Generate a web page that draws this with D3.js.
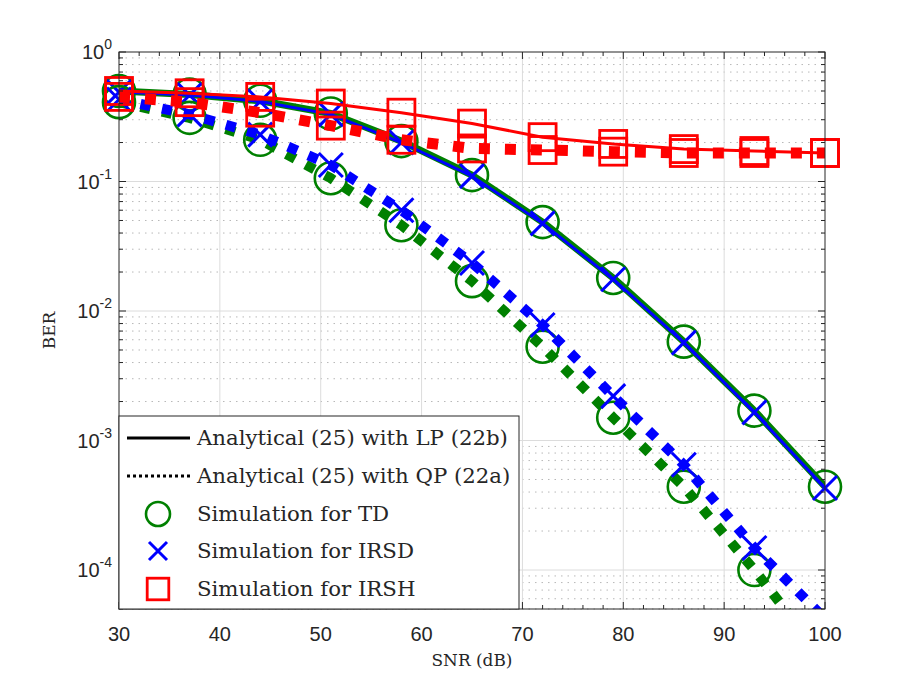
<!DOCTYPE html>
<html>
<head>
<meta charset="utf-8">
<script src="https://cdn.jsdelivr.net/npm/d3@7"></script>
<style>
  body { margin: 0; background: #fff; }
  svg { display: block; }
  .tick-label { font-family: "Liberation Sans", Arial, Helvetica, sans-serif; font-size: 20px; fill: #262626; }
  .serif { font-family: "DejaVu Serif", serif; fill: #262626; }
</style>
</head>
<body>
<svg id="chart" width="912" height="684"></svg>
<script>
// SNR points (dB) where markers sit
var snr = [30, 37, 44, 51, 58, 65, 72, 79, 86, 93, 100];

// BER, analytical with LP (solid)
var tdLP   = [0.50, 0.47, 0.42, 0.335, 0.205, 0.112, 0.0486, 0.018, 0.0058, 0.0017, 4.4e-4];
var irsdLP = [0.49, 0.465, 0.415, 0.33, 0.20, 0.110, 0.0475, 0.0176, 0.0057, 0.00165, 4.3e-4];
var irshLP = [0.50, 0.48, 0.45, 0.40, 0.34, 0.28, 0.22, 0.195, 0.178, 0.172, 0.166];

// BER, analytical with QP (dotted)
var tdQP   = [0.41, 0.31, 0.21, 0.106, 0.046, 0.017, 0.0053, 0.0015, 4.4e-4, 1.0e-4, 2.0e-5];
var irsdQP = [0.43, 0.33, 0.23, 0.134, 0.060, 0.0235, 0.0078, 0.0022, 6.5e-4, 1.48e-4, 4.2e-5];
var irshQP = [0.45, 0.41, 0.34, 0.27, 0.21, 0.18, 0.175, 0.17, 0.166, 0.166, 0.166];

var xTicks = [30, 40, 50, 60, 70, 80, 90, 100];
var yExps = [0, -1, -2, -3, -4];
var legendLabels = [
  'Analytical (25) with LP (22b)',
  'Analytical (25) with QP (22a)',
  'Simulation for TD',
  'Simulation for IRSD',
  'Simulation for IRSH'
];

var GREEN = '#008000', BLUE = '#0000ff', RED = '#ff0000', AXIS = '#262626';

var margin = { left: 119, right: 87, top: 52, bottom: 75 },
    W = 912, H = 684,
    iw = W - margin.left - margin.right,
    ih = H - margin.top - margin.bottom;

var svg = d3.select('#chart');

var x = d3.scaleLinear().domain([30, 100]).range([0, iw]);
var y = d3.scaleLog().domain([5e-5, 1]).range([ih, 0]);

var g = svg.append('g')
    .attr('transform', 'translate(' + margin.left + ',' + margin.top + ')');

svg.append('defs').append('clipPath').attr('id', 'clip')
  .append('rect').attr('width', iw).attr('height', ih);

// scale a text's font size so it spans the wanted width
function fitWidth(sel, target) {
  var fs = parseFloat(sel.attr('font-size'));
  var w = sel.node().getComputedTextLength();
  if (w > 0) { fs = fs * target / w; }
  return fs;
}

// minor y values (2..9 x decade) inside domain
var minorY = [];
[-5, -4, -3, -2, -1].forEach(function (e) {
  for (var k = 2; k <= 9; k++) {
    var v = k * Math.pow(10, e);
    if (v >= 5e-5 && v < 1) { minorY.push(v); }
  }
});
var minorX = d3.range(30, 101, 2).filter(function (v) { return v % 10 !== 0; });

// grid
var grid = g.append('g');
grid.selectAll('.ymin').data(minorY).enter().append('line')
    .attr('x1', 0).attr('x2', iw)
    .attr('y1', function (d) { return y(d); }).attr('y2', function (d) { return y(d); })
    .attr('stroke', '#b8b8b8').attr('stroke-width', 1).attr('stroke-dasharray', '1.5,5');
grid.selectAll('.ymaj').data(yExps.slice(1)).enter().append('line')
    .attr('x1', 0).attr('x2', iw)
    .attr('y1', function (d) { return y(Math.pow(10, d)); }).attr('y2', function (d) { return y(Math.pow(10, d)); })
    .attr('stroke', '#dcdcdc').attr('stroke-width', 1);
grid.selectAll('.xmaj').data(xTicks.slice(1, -1)).enter().append('line')
    .attr('x1', function (d) { return x(d); }).attr('x2', function (d) { return x(d); })
    .attr('y1', 0).attr('y2', ih)
    .attr('stroke', '#dcdcdc').attr('stroke-width', 1);

// curves (lines clipped, markers only drawn for points inside the axes)
var plot = g.append('g');
var line = d3.line()
    .x(function (d, i) { return x(snr[i]); })
    .y(function (d) { return y(d); });

function drawLine(vals, color, width, dash) {
  plot.append('path').datum(vals)
      .attr('clip-path', 'url(#clip)')
      .attr('d', line)
      .attr('fill', 'none')
      .attr('stroke', color)
      .attr('stroke-width', width)
      .attr('stroke-dasharray', dash || null)
      .attr('stroke-linejoin', 'round');
}

function circleMark(sel, color, s) {
  sel.append('circle').attr('r', 16 * s).attr('fill', 'none')
     .attr('stroke', color).attr('stroke-width', 2.6);
}
function crossMark(sel, color, s) {
  var a = 12 * s;
  sel.append('path').attr('d', 'M' + -a + ',' + -a + 'L' + a + ',' + a + 'M' + -a + ',' + a + 'L' + a + ',' + -a)
     .attr('stroke', color).attr('stroke-width', 3).attr('fill', 'none');
}
function squareMark(sel, color, s) {
  var a = 13.5 * s;
  sel.append('rect').attr('x', -a).attr('y', -a).attr('width', 2 * a).attr('height', 2 * a)
     .attr('fill', 'none').attr('stroke', color).attr('stroke-width', 2.8);
}

function drawMarks(vals, color, fn) {
  var pts = vals.map(function (v, i) { return [snr[i], v]; })
      .filter(function (p) { return p[1] >= 5e-5; });
  plot.append('g').selectAll('g').data(pts).enter().append('g')
      .attr('transform', function (d) { return 'translate(' + x(d[0]) + ',' + y(d[1]) + ')'; })
      .each(function () { fn(d3.select(this), color, 1); });
}

drawLine(tdLP, GREEN, 7);
drawMarks(tdLP, GREEN, circleMark);
drawLine(irsdLP, BLUE, 3);
drawMarks(irsdLP, BLUE, crossMark);
drawLine(tdQP, GREEN, 10, '10,12');
drawMarks(tdQP, GREEN, circleMark);
drawLine(irsdQP, BLUE, 10, '10,12');
drawMarks(irsdQP, BLUE, crossMark);
drawLine(irshLP, RED, 3);
drawMarks(irshLP, RED, squareMark);
drawLine(irshQP, RED, 11, '11,15');
drawMarks(irshQP, RED, squareMark);

// axes box and ticks
var ax = g.append('g');
ax.append('rect').attr('width', iw).attr('height', ih)
  .attr('fill', 'none').attr('stroke', AXIS).attr('stroke-width', 1);

xTicks.forEach(function (v) {
  ax.append('line').attr('x1', x(v)).attr('x2', x(v)).attr('y1', ih).attr('y2', ih - 7).attr('stroke', AXIS);
  ax.append('line').attr('x1', x(v)).attr('x2', x(v)).attr('y1', 0).attr('y2', 7).attr('stroke', AXIS);
  ax.append('text').attr('class', 'tick-label').attr('x', x(v)).attr('y', ih + 32)
    .attr('text-anchor', 'middle').text(v);
});
minorX.forEach(function (v) {
  ax.append('line').attr('x1', x(v)).attr('x2', x(v)).attr('y1', ih).attr('y2', ih - 4).attr('stroke', AXIS);
  ax.append('line').attr('x1', x(v)).attr('x2', x(v)).attr('y1', 0).attr('y2', 4).attr('stroke', AXIS);
});
minorY.forEach(function (v) {
  ax.append('line').attr('x1', 0).attr('x2', 4).attr('y1', y(v)).attr('y2', y(v)).attr('stroke', AXIS);
  ax.append('line').attr('x1', iw).attr('x2', iw - 4).attr('y1', y(v)).attr('y2', y(v)).attr('stroke', AXIS);
});
yExps.forEach(function (e) {
  var yy = y(Math.pow(10, e));
  ax.append('line').attr('x1', 0).attr('x2', 7).attr('y1', yy).attr('y2', yy).attr('stroke', AXIS);
  ax.append('line').attr('x1', iw).attr('x2', iw - 7).attr('y1', yy).attr('y2', yy).attr('stroke', AXIS);
  var t = ax.append('text').attr('class', 'tick-label')
      .attr('x', -7).attr('y', yy + 7).attr('text-anchor', 'end');
  t.append('tspan').text('10');
  t.append('tspan').attr('dy', -10).attr('font-size', 14).text(e);
});

// axis titles
var xt = g.append('text').attr('class', 'serif').attr('font-size', 16)
  .attr('x', iw / 2).attr('y', ih + 57).attr('text-anchor', 'middle').text('SNR (dB)');
var titleSize = fitWidth(xt, 81);
xt.attr('font-size', titleSize);
g.append('text').attr('class', 'serif').attr('font-size', titleSize)
  .attr('transform', 'translate(-64,' + (ih / 2) + ') rotate(-90)')
  .attr('text-anchor', 'middle').text('BER');

// legend
var lg = g.append('g').attr('transform', 'translate(0,' + (ih - 193) + ')');
lg.append('rect').attr('width', 400).attr('height', 193)
  .attr('fill', '#fff').attr('stroke', AXIS).attr('stroke-width', 1);
var rowY = [22, 60, 98, 135, 173];
lg.append('line').attr('x1', 8).attr('x2', 71).attr('y1', rowY[0]).attr('y2', rowY[0])
  .attr('stroke', '#000').attr('stroke-width', 3);
lg.append('line').attr('x1', 8).attr('x2', 71).attr('y1', rowY[1]).attr('y2', rowY[1])
  .attr('stroke', '#000').attr('stroke-width', 3).attr('stroke-dasharray', '3,3');
circleMark(lg.append('g').attr('transform', 'translate(39,' + rowY[2] + ')'), GREEN, 0.75);
crossMark(lg.append('g').attr('transform', 'translate(39,' + rowY[3] + ')'), BLUE, 0.75);
squareMark(lg.append('g').attr('transform', 'translate(39,' + rowY[4] + ')'), RED, 0.8);

var lt = lg.selectAll('.lt').data(legendLabels).enter().append('text')
  .attr('class', 'serif lt').attr('font-size', 20)
  .attr('x', 78).attr('y', function (d, i) { return rowY[i] + 7; })
  .text(function (d) { return d; });
var legendSize = fitWidth(d3.select(lt.nodes()[0]), 311);
lt.attr('font-size', legendSize);
</script>
</body>
</html>
